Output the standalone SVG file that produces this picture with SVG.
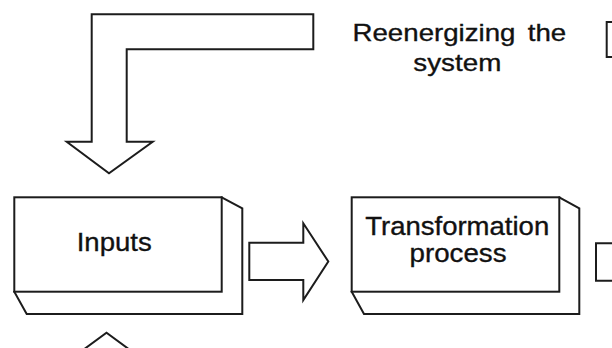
<svg xmlns="http://www.w3.org/2000/svg" width="612" height="348" viewBox="0 0 612 348">
<style>
.s{fill:#fff;stroke:#1c1c1c;stroke-width:2;stroke-linejoin:miter}
.o{fill:none;stroke:#1c1c1c;stroke-width:2}
.t{font-family:"Liberation Sans",Arial,sans-serif;fill:#111;stroke:#111;stroke-width:0.35;text-anchor:middle}
</style>
<rect width="612" height="348" fill="#fff"/>
<g id="connectors">
<polygon class="s" points="91.7,14.3 313.3,14.3 313.3,49.3 126.7,49.3 126.7,141.7 152.7,141.7 109,173.3 66.7,141.7 91.7,141.7"/>
<polygon class="s" points="249.3,242.7 303.3,242.7 303.3,223.3 328.3,261.5 303.3,300 303.3,280 249.3,280"/>
<polyline class="o" points="614,243.3 596,243.3 596,280.7 614,280.7"/>
<polyline class="o" points="83,350 106.5,332.7 130,350"/>
<polyline class="o" points="614,22 606.7,22 606.7,57 614,57"/>
</g>
<g id="label-reenergizing">
<text class="t" x="459" y="40.5" font-size="24.5"><tspan x="434" text-anchor="middle" textLength="163" lengthAdjust="spacingAndGlyphs">Reenergizing</tspan><tspan x="547" text-anchor="middle" textLength="38.5" lengthAdjust="spacingAndGlyphs">the</tspan></text>
<text class="t" x="457.3" y="71" font-size="24.5" textLength="88" lengthAdjust="spacingAndGlyphs">system</text>
</g>
<g id="inputs">
<path class="s" d="M221.7,197.3 L242.3,208.3 L242.3,314 L26.7,314 L14.3,291.7 Z"/>
<rect class="s" x="14.3" y="197.3" width="207.4" height="94.4"/>
<text class="t" x="114.2" y="250.7" font-size="26.5" textLength="75" lengthAdjust="spacingAndGlyphs">Inputs</text>
</g>
<g id="transformation">
<path class="s" d="M559.3,197.3 L579.3,208.3 L579.3,314 L364,314 L351.7,291.7 Z"/>
<rect class="s" x="351.7" y="197.3" width="207.6" height="94.4"/>
<text class="t" x="457.2" y="235" font-size="25.5" textLength="184" lengthAdjust="spacingAndGlyphs">Transformation</text>
<text class="t" x="458" y="261.5" font-size="25.5" textLength="97" lengthAdjust="spacingAndGlyphs">process</text>
</g>
</svg>
